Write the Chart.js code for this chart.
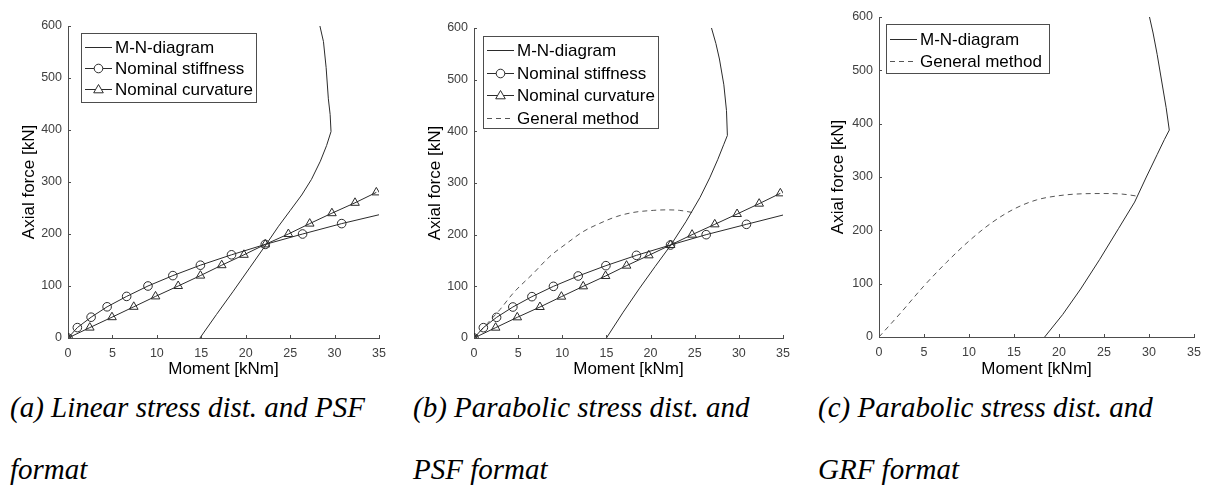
<!DOCTYPE html>
<html>
<head>
<meta charset="utf-8">
<script src="https://cdn.jsdelivr.net/npm/chart.js@4.4.1/dist/chart.umd.min.js"></script>
<style>
  html, body { margin: 0; padding: 0; background: #fff; }
  #page { position: relative; width: 1209px; height: 492px; overflow: hidden; }
  .panel { position: absolute; top: 0; height: 390px; }
  .cap { position: absolute; font-family: "Liberation Serif", "Times New Roman", serif; font-style: italic;
         font-size: 29px; line-height: 29px; color: #000; white-space: nowrap; }
</style>
</head>
<body>
<div id="page">
  <div class="panel" style="left:0;width:400px"><canvas id="cA"></canvas></div>
  <div class="panel" style="left:400px;width:410px"><canvas id="cB"></canvas></div>
  <div class="panel" style="left:810px;width:399px"><canvas id="cC"></canvas></div>

  <div class="cap" style="left:10px;top:393px">(a) Linear stress dist. and PSF</div>
  <div class="cap" style="left:10px;top:455px">format</div>
  <div class="cap" style="left:413px;top:393px">(b) Parabolic stress dist. and</div>
  <div class="cap" style="left:413px;top:455px">PSF format</div>
  <div class="cap" style="left:818px;top:393px">(c) Parabolic stress dist. and</div>
  <div class="cap" style="left:818px;top:455px">GRF format</div>
</div>
<script>
// axis ticks
const xTicks = [0, 5, 10, 15, 20, 25, 30, 35];
const yTicks = [0, 100, 200, 300, 400, 500, 600];

// (a) linear stress dist., PSF
const mnA_M = [14.85, 16.7, 18.6, 20.45, 22.3, 23.7, 25.0, 26.3, 27.4, 28.4, 29.1, 29.6, 29.5, 29.3, 29.05, 28.75, 28.35];
const mnA_N = [0, 45, 90, 135, 180, 215, 245, 275, 305, 340, 370, 397, 430, 460, 520, 570, 600];
const stiffA_M = [0, 1.05, 2.6, 4.4, 6.6, 9.0, 11.8, 14.9, 18.4, 22.2, 26.4, 30.8, 35];
const stiffA_N = [0, 20, 40, 60, 80, 100, 120, 140, 160, 180, 200, 220, 237];
const curvA_M = [0, 2.45, 4.95, 7.4, 9.85, 12.4, 14.9, 17.3, 19.8, 22.2, 24.8, 27.2, 29.7, 32.3, 34.7];
const curvA_N = [0, 20, 40, 60, 80, 100, 120, 140, 160, 180, 200, 220, 240, 260, 280];

// (b) parabolic stress dist., PSF
const mnB_M = [15.0, 16.9, 18.7, 20.5, 22.3, 24.0, 25.6, 26.7, 27.6, 28.3, 28.7, 28.6, 28.3, 27.8, 27.4, 26.9];
const mnB_N = [0, 50, 95, 138, 180, 225, 272, 310, 345, 375, 392, 440, 490, 540, 570, 600];
const stiffB_M = [0, 1.06, 2.56, 4.4, 6.56, 9.0, 11.8, 14.94, 18.4, 22.26, 26.3, 30.86, 35];
const stiffB_N = [0, 20, 40, 60, 80, 100, 120, 140, 160, 180, 200, 220, 238];
const curvB_M = [0, 2.45, 4.9, 7.47, 9.9, 12.37, 14.9, 17.28, 19.8, 22.26, 24.7, 27.27, 29.8, 32.3, 34.7];
const curvB_N = [0, 20, 40, 60, 80, 100, 120, 140, 160, 180, 200, 220, 240, 260, 280];
const genB_M = [0, 1.5, 2.94, 4.45, 6.71, 8.6, 10.49, 12.37, 14.26, 16.14, 18.03, 20.3, 21.8, 23.3, 24.7];
const genB_N = [0, 28, 55, 87, 125, 158, 183, 206, 222, 235, 243, 247, 248, 247, 243];

// (c) parabolic stress dist., GRF
const mnC_M = [18.4, 20.4, 22.4, 24.5, 26.6, 28.4, 29.7, 30.9, 31.7, 32.25, 31.9, 31.4, 30.9, 30.45, 30.05];
const mnC_N = [0, 42, 90, 145, 203, 253, 300, 342, 370, 388, 430, 480, 530, 570, 600];
const genC_M = [0, 2.5, 4.9, 7.5, 10.0, 12.5, 15.0, 17.5, 20.0, 22.5, 25.0, 27.0, 28.75];
const genC_N = [0, 47, 94, 140, 180, 214, 240, 257, 265, 268.5, 269, 268, 264];

const axisColor = '#4d4d4d';
const lineColor = '#2b2b2b';
const dashColor = '#555555';

function pts(ms, ns) { return ms.map((m, i) => ({x: m, y: ns[i]})); }

function mnSet(ms, ns) {
  return {label: 'M-N-diagram', data: pts(ms, ns), showLine: true, borderColor: lineColor,
          borderWidth: 1, pointRadius: 0, tension: 0, kind: 'line'};
}
function stiffSet(ms, ns) {
  // last point is the line end, no marker
  return {label: 'Nominal stiffness', data: pts(ms, ns), showLine: true, borderColor: lineColor,
          borderWidth: 1, pointStyle: 'circle', pointRadius: ms.map((m, i) => i === ms.length - 1 ? 0 : 4.3),
          pointBorderColor: lineColor, pointBackgroundColor: 'rgba(0,0,0,0)', pointBorderWidth: 1,
          tension: 0, kind: 'circle'};
}
function curvSet(ms, ns) {
  return {label: 'Nominal curvature', data: pts(ms, ns), showLine: true, borderColor: lineColor,
          borderWidth: 1, pointStyle: 'triangle', pointRadius: 5,
          pointBorderColor: lineColor, pointBackgroundColor: 'rgba(0,0,0,0)', pointBorderWidth: 1,
          tension: 0, kind: 'triangle'};
}
function genSet(ms, ns) {
  return {label: 'General method', data: pts(ms, ns), showLine: true, borderColor: dashColor,
          borderWidth: 1, borderDash: [5, 4], pointRadius: 0, cubicInterpolationMode: 'monotone', kind: 'dash'};
}

// MATLAB style inward tick marks
const inwardTicks = {
  id: 'inwardTicks',
  afterDraw(chart) {
    const {ctx, chartArea: a, scales: {x, y}} = chart;
    ctx.save();
    ctx.strokeStyle = axisColor;
    ctx.lineWidth = 1;
    ctx.beginPath();
    x.ticks.forEach(t => {
      const px = Math.round(x.getPixelForValue(t.value)) + 0.5;
      ctx.moveTo(px, a.bottom); ctx.lineTo(px, a.bottom - 3);
    });
    y.ticks.forEach(t => {
      const py = Math.round(y.getPixelForValue(t.value)) + 0.5;
      ctx.moveTo(a.left, py); ctx.lineTo(a.left + 3, py);
    });
    ctx.stroke();
    ctx.restore();
  }
};

// boxed legend like MATLAB's
const boxLegend = {
  id: 'boxLegend',
  afterDraw(chart, args, opts) {
    const ctx = chart.ctx;
    ctx.save();
    ctx.fillStyle = '#fff';
    ctx.fillRect(opts.x, opts.y, opts.w, opts.h);
    ctx.strokeStyle = axisColor;
    ctx.lineWidth = 1;
    ctx.strokeRect(opts.x + 0.5, opts.y + 0.5, opts.w, opts.h);
    chart.data.datasets.forEach((ds, i) => {
      const ry = Math.round(opts.y + opts.first + i * opts.step) + 0.5;
      const x0 = opts.x + 4, x1 = opts.x + 31, cx = (x0 + x1) / 2;
      ctx.strokeStyle = ds.borderColor;
      ctx.setLineDash(ds.borderDash || []);
      ctx.beginPath(); ctx.moveTo(x0, ry); ctx.lineTo(x1, ry); ctx.stroke();
      ctx.setLineDash([]);
      ctx.strokeStyle = lineColor;
      if (ds.kind === 'circle') {
        ctx.fillStyle = '#fff';
        ctx.beginPath(); ctx.arc(cx, ry, 4.3, 0, Math.PI * 2); ctx.fill(); ctx.stroke();
      } else if (ds.kind === 'triangle') {
        ctx.fillStyle = '#fff';
        ctx.beginPath();
        ctx.moveTo(cx, ry - 5); ctx.lineTo(cx + 4.8, ry + 3.3); ctx.lineTo(cx - 4.8, ry + 3.3);
        ctx.closePath(); ctx.fill(); ctx.stroke();
      }
      ctx.fillStyle = '#000';
      ctx.font = '17px "Liberation Sans", Arial, sans-serif';
      ctx.textBaseline = 'middle';
      ctx.fillText(ds.label, opts.x + 34, ry + 1);
    });
    ctx.restore();
  }
};

function makeChart(id, width, area, yTitleX, datasets, legend) {
  const el = document.getElementById(id);
  el.width = width; el.height = 390;
  el.style.width = width + 'px'; el.style.height = '390px';
  const tickFont = {family: '"Liberation Sans", Arial, sans-serif', size: 12.5};
  const titleFont = {family: '"Liberation Sans", Arial, sans-serif', size: 17};
  return new Chart(el, {
    type: 'scatter',
    data: {datasets},
    options: {
      responsive: false,
      animation: false,
      layout: {padding: {left: 0, top: area.top, right: width - area.right, bottom: 0}},
      plugins: {legend: {display: false}, tooltip: {enabled: false}, boxLegend: legend},
      scales: {
        x: {
          type: 'linear', min: 0, max: 35,
          afterBuildTicks: s => { s.ticks = xTicks.map(v => ({value: v})); },
          afterFit: s => { s.height = 390 - area.bottom; },
          ticks: {color: '#404040', font: tickFont, padding: 8, maxRotation: 0},
          grid: {display: true, drawOnChartArea: false, drawTicks: false},
          border: {display: true, color: axisColor, width: 1},
          title: {display: true, text: 'Moment [kNm]', color: '#000', font: titleFont,
                  padding: {top: 0, bottom: 10}}
        },
        y: {
          type: 'linear', min: 0, max: 600,
          afterBuildTicks: s => { s.ticks = yTicks.map(v => ({value: v})); },
          afterFit: s => { s.width = area.left; },
          ticks: {color: '#404040', font: tickFont, padding: 6},
          grid: {display: true, drawOnChartArea: false, drawTicks: false},
          border: {display: true, color: axisColor, width: 1},
          title: {display: true, text: 'Axial force [kN]', color: '#000', font: titleFont,
                  padding: {top: yTitleX - 10.2, bottom: 0}}
        }
      }
    },
    plugins: [inwardTicks, boxLegend]
  });
}

makeChart('cA', 400, {left: 68, right: 379, top: 26, bottom: 338}, 29,
  [mnSet(mnA_M, mnA_N), stiffSet(stiffA_M, stiffA_N), curvSet(curvA_M, curvA_N)],
  {x: 81, y: 33, w: 175, h: 69, first: 13.5, step: 21});

makeChart('cB', 410, {left: 74, right: 383, top: 28, bottom: 338}, 35,
  [mnSet(mnB_M, mnB_N), stiffSet(stiffB_M, stiffB_N), curvSet(curvB_M, curvB_N), genSet(genB_M, genB_N)],
  {x: 83, y: 36, w: 175, h: 92, first: 14, step: 22.5});

makeChart('cC', 399, {left: 69, right: 386, top: 17, bottom: 337}, 28,
  [mnSet(mnC_M, mnC_N), genSet(genC_M, genC_N)],
  {x: 76, y: 24, w: 163, h: 49, first: 15, step: 22});
</script>
</body>
</html>
